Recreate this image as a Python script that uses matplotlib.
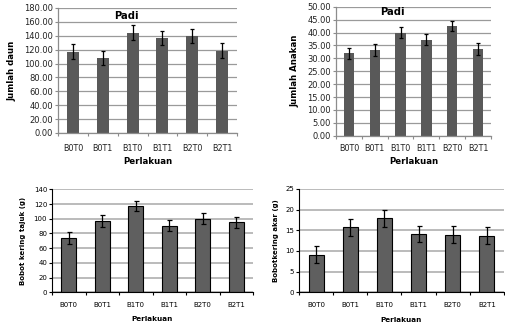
import numpy as np
import matplotlib
matplotlib.use('Agg')
import matplotlib.pyplot as plt
from matplotlib.ticker import MultipleLocator, FormatStrFormatter

# Perlakuan (kombinasi B dan T)
perlakuan = ['B0T0', 'B0T1', 'B1T0', 'B1T1', 'B2T0', 'B2T1']

# Jumlah daun padi
daun = [117.0, 108.0, 144.5, 136.5, 140.0, 118.5]
daun_err = [10.5, 10.0, 11.0, 10.0, 10.0, 10.5]

# Jumlah anakan padi
anakan = [31.9, 33.2, 39.9, 37.2, 42.5, 33.6]
anakan_err = [2.0, 2.2, 2.1, 2.1, 2.1, 2.2]

# Bobot kering tajuk (g)
tajuk = [73.4, 97.4, 117.4, 90.2, 100.1, 95.2]
tajuk_err = [8.0, 8.0, 7.2, 7.5, 7.5, 7.2]

# Bobot kering akar (g)
akar = [9.1, 15.7, 17.9, 14.1, 13.95, 13.7]
akar_err = [2.0, 2.0, 2.0, 2.0, 2.0, 2.0]

plt.rcParams['font.family'] = 'DejaVu Sans'

fig = plt.figure(figsize=(5.05, 3.27), dpi=100)
x = np.arange(len(perlakuan))


def panel_atas(rect, nilai, err, ymax, step, ylabel, ylab_x, xlab_y, judul_xy, pad):
    ax = fig.add_axes(rect)
    ax.bar(x, nilai, width=0.4, color='#595959', zorder=2)
    ax.errorbar(x, nilai, yerr=err, fmt='none', ecolor='black', elinewidth=0.9,
                capsize=1.6, capthick=0.9, zorder=3)
    ax.set_xlim(-0.5, 5.5)
    ax.set_ylim(0, ymax)
    ax.yaxis.set_major_locator(MultipleLocator(step))
    ax.yaxis.set_major_formatter(FormatStrFormatter('%.2f'))
    ax.grid(axis='y', color='#9a9a9a', linewidth=0.9, zorder=0)
    for s in ['top', 'right']:
        ax.spines[s].set_visible(False)
    for s in ['left', 'bottom']:
        ax.spines[s].set_color('#8c8c8c')
        ax.spines[s].set_linewidth(0.9)
    ax.set_xticks(x)
    ax.set_xticklabels(perlakuan)
    ax.set_xticks(np.arange(-0.5, 6.0, 1.0), minor=True)
    ax.tick_params(axis='x', which='major', length=0, pad=pad, labelsize=5.8, colors='#222222')
    ax.tick_params(axis='x', which='minor', length=2.5, color='#8c8c8c', width=0.8)
    ax.tick_params(axis='y', length=2.5, pad=1, labelsize=6, color='#8c8c8c', labelcolor='#222222')
    ax.set_xlabel('Perlakuan', fontsize=6.2, fontweight='bold', va='center')
    ax.xaxis.set_label_coords(0.5, xlab_y)
    ax.set_ylabel(ylabel, fontsize=6.2, fontweight='bold', va='center')
    ax.yaxis.set_label_coords(ylab_x, 0.5)
    ax.text(judul_xy[0], judul_xy[1], 'Padi', transform=ax.transAxes, fontsize=7.2,
            fontweight='bold', ha='center', va='center')
    return ax


def panel_bawah(rect, nilai, err, ymax, step, ylabel, ylab_x, xlab_y):
    ax = fig.add_axes(rect)
    ax.bar(x, nilai, width=0.44, color='#5f5f5f', edgecolor='black', linewidth=0.8, zorder=2)
    ax.errorbar(x, nilai, yerr=err, fmt='none', ecolor='black', elinewidth=0.9,
                capsize=1.8, capthick=0.9, zorder=3)
    ax.set_xlim(-0.5, 5.5)
    ax.set_ylim(0, ymax)
    ax.yaxis.set_major_locator(MultipleLocator(step))
    ax.grid(axis='y', color='#b5b5b5', linewidth=1.3, zorder=0)
    for s in ['top', 'right']:
        ax.spines[s].set_visible(False)
    for s in ['left', 'bottom']:
        ax.spines[s].set_color('black')
        ax.spines[s].set_linewidth(0.8)
    ax.set_xticks(x)
    ax.set_xticklabels(perlakuan)
    ax.set_xticks(np.arange(-0.5, 6.0, 1.0), minor=True)
    ax.tick_params(axis='x', which='major', length=0, pad=7, labelsize=5)
    ax.tick_params(axis='x', which='minor', length=2.5, width=0.8)
    ax.tick_params(axis='y', length=2.5, width=0.8, pad=1, labelsize=5)
    ax.set_xlabel('Perlakuan', fontsize=5.2, fontweight='bold', va='center')
    ax.xaxis.set_label_coords(0.5, xlab_y)
    ax.set_ylabel(ylabel, fontsize=5, fontweight='bold', va='center')
    ax.yaxis.set_label_coords(ylab_x, 0.5)
    return ax


panel_atas([0.1149, 0.5933, 0.3545, 0.3823], daun, daun_err, 180, 20,
           'Jumlah daun', -0.257, -0.232, (0.38, 0.936), 8)
panel_atas([0.6653, 0.585, 0.3069, 0.3945], anakan, anakan_err, 50, 5,
           'Jumlah Anakan', -0.265, -0.2, (0.361, 0.959), 6)
panel_bawah([0.103, 0.1061, 0.398, 0.315], tajuk, tajuk_err, 140, 20,
            'Bobot kering tajuk (g)', -0.144, -0.26)
panel_bawah([0.592, 0.1061, 0.406, 0.316], akar, akar_err, 25, 5,
            'Bobotkering akar (g)', -0.112, -0.264)

fig.savefig('out.png', dpi=100)
